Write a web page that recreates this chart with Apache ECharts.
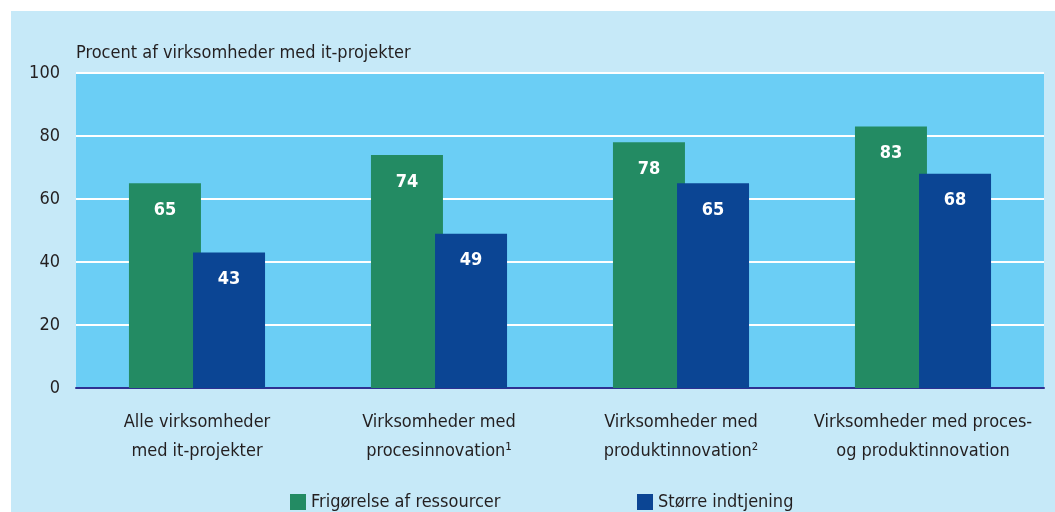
<!DOCTYPE html>
<html>
<head>
    <meta charset="utf-8">
    <title>Procent af virksomheder med it-projekter</title>
    <script src="https://cdn.jsdelivr.net/npm/echarts@6/dist/echarts.min.js"></script>
    <style type="text/css">
        body { margin: 0; background: #ffffff; }
        #main {
            position: absolute;
            left: 11px;
            top: 11px;
            width: 1044px;
            height: 501px;
        }
    </style>
</head>
<body>
    <div id="main"></div>
    <script type="text/javascript">
        var categories = [
            'Alle virksomheder\nmed it-projekter',
            'Virksomheder med\nprocesinnovation\u00b9',
            'Virksomheder med\nproduktinnovation\u00b2',
            'Virksomheder med proces-\nog produktinnovation'
        ];
        var frigoerelse = [65, 74, 78, 83];
        var indtjening = [43, 49, 65, 68];
        var seriesNames = ['Frigørelse af ressourcer', 'Større indtjening'];
        var yTicks = [0, 20, 40, 60, 80, 100];

        var font = "'Liberation Sans Narrow', 'DejaVu Sans Condensed', sans-serif";
        var textColor = '#231f20';

        var chart = echarts.init(document.getElementById('main'));
        var barLabel = {
            show: true,
            position: 'insideTop',
            distance: 18,
            color: '#ffffff',
            fontWeight: 'bold',
            fontSize: 18,
            fontFamily: font
        };
        var legendText = { color: textColor, fontSize: 18, fontFamily: font };
        var option = {
            backgroundColor: '#c6e9f8',
            animation: false,
            textStyle: { fontFamily: font },
            grid: {
                left: 65,
                right: 11,
                top: 62,
                bottom: 124,
                show: true,
                backgroundColor: '#6bcef5',
                borderWidth: 0
            },
            legend: [
                {
                    data: [seriesNames[0]],
                    left: 274,
                    top: 477,
                    icon: 'rect',
                    itemWidth: 16,
                    itemHeight: 16,
                    textStyle: legendText
                },
                {
                    data: [seriesNames[1]],
                    left: 621,
                    top: 477,
                    icon: 'rect',
                    itemWidth: 16,
                    itemHeight: 16,
                    textStyle: legendText
                }
            ],
            xAxis: {
                type: 'category',
                data: categories,
                axisLine: { lineStyle: { color: '#2e3192', width: 2 } },
                axisTick: { show: false },
                axisLabel: {
                    color: textColor,
                    fontSize: 18,
                    lineHeight: 29,
                    margin: 20,
                    fontFamily: font,
                    interval: 0
                }
            },
            yAxis: {
                type: 'value',
                min: yTicks[0],
                max: yTicks[yTicks.length - 1],
                interval: 20,
                name: 'Procent af virksomheder med it-projekter',
                nameLocation: 'end',
                nameGap: 20,
                nameTextStyle: {
                    color: textColor,
                    fontSize: 18,
                    fontFamily: font,
                    align: 'left',
                    verticalAlign: 'middle'
                },
                axisLine: { show: false },
                axisTick: { show: false },
                axisLabel: { color: textColor, fontSize: 18, margin: 16, fontFamily: font },
                splitLine: { lineStyle: { color: '#ffffff', width: 2 } }
            },
            series: [
                {
                    name: seriesNames[0],
                    type: 'bar',
                    data: frigoerelse,
                    barWidth: 72,
                    barGap: '-11%',
                    itemStyle: { color: '#238b63' },
                    label: barLabel
                },
                {
                    name: seriesNames[1],
                    type: 'bar',
                    data: indtjening,
                    barWidth: 72,
                    itemStyle: { color: '#0b4594' },
                    label: barLabel
                }
            ]
        };
        chart.setOption(option);
    </script>
</body>
</html>
